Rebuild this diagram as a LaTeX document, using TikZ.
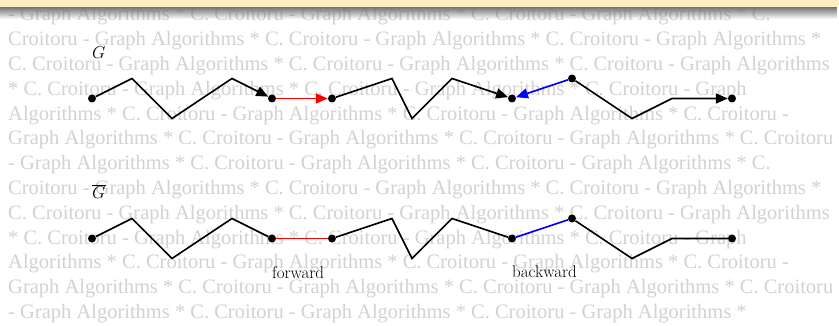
\documentclass[tikz,border=0pt]{standalone}
\usepackage{fontspec}
\newfontfamily\wmfont{Liberation Serif}
\usetikzlibrary{arrows.meta,fadings}
\definecolor{hdr}{RGB}{253,237,193}
\definecolor{wm}{RGB}{210,210,210}
\tikzfading[name=shadowfade, top color=transparent!0, bottom color=transparent!100]
\tikzset{
  dot/.style={circle,fill=black,inner sep=0pt,minimum size=8pt},
  edge/.style={line width=1.6pt,line join=miter},
  tip/.style={-{Triangle[length=12pt,width=10pt]}},
  wmline/.style={anchor=base west,inner sep=0pt,text=wm,font=\wmfont\fontsize{20.5}{24}\selectfont},
  lbl/.style={anchor=base west,inner sep=0pt,font=\fontsize{17}{20}\selectfont}
}
\begin{document}
\begin{tikzpicture}[x=1pt,y=-1pt]
\useasboundingbox (0,0) rectangle (839,326);
\fill[white] (0,0) rectangle (839,326);
% watermark
\foreach \t [count=\k] in {
 {- Graph Algorithms * C. Croitoru - Graph Algorithms * C. Croitoru - Graph Algorithms * C.},
 {Croitoru - Graph Algorithms * C. Croitoru - Graph Algorithms * C. Croitoru - Graph Algorithms *},
 {C. Croitoru - Graph Algorithms * C. Croitoru - Graph Algorithms * C. Croitoru - Graph Algorithms},
 {* C. Croitoru - Graph Algorithms * C. Croitoru - Graph Algorithms * C. Croitoru - Graph},
 {Algorithms * C. Croitoru - Graph Algorithms * C. Croitoru - Graph Algorithms * C. Croitoru -},
 {Graph Algorithms * C. Croitoru - Graph Algorithms * C. Croitoru - Graph Algorithms * C. Croitoru},
 {- Graph Algorithms * C. Croitoru - Graph Algorithms * C. Croitoru - Graph Algorithms * C.},
 {Croitoru - Graph Algorithms * C. Croitoru - Graph Algorithms * C. Croitoru - Graph Algorithms *},
 {C. Croitoru - Graph Algorithms * C. Croitoru - Graph Algorithms * C. Croitoru - Graph Algorithms},
 {* C. Croitoru - Graph Algorithms * C. Croitoru - Graph Algorithms * C. Croitoru - Graph},
 {Algorithms * C. Croitoru - Graph Algorithms * C. Croitoru - Graph Algorithms * C. Croitoru -},
 {Graph Algorithms * C. Croitoru - Graph Algorithms * C. Croitoru - Graph Algorithms * C. Croitoru},
 {- Graph Algorithms * C. Croitoru - Graph Algorithms * C. Croitoru - Graph Algorithms *}}
{ \node[wmline] (wm\k) at (8,{21+(\k-1)*24.8}) {\t}; }
% header bar and shadow
\fill[black!55,path fading=shadowfade] (0,7) rectangle (839,19);
\fill[hdr] (0,0) rectangle (839,7.3);
% labels
\node[lbl] (gl) at (92,59) {$G$};
\node[lbl] (gbl) at (92,198.5) {$\overline{G}$};
\node[lbl] (fw) at (272,278) {forward};
\node[lbl] (bw) at (512,277.5) {backward};
% top graph
\node[dot] (u1) at (92,98.5) {};
\node[dot] (u2) at (272,98.5) {};
\node[dot] (u3) at (332,98.5) {};
\node[dot] (u4) at (512,98.5) {};
\node[dot] (u5) at (572,78.5) {};
\node[dot] (u6) at (732,98.5) {};
\coordinate (p1) at (132,78.5);
\coordinate (p2) at (172,118.5);
\coordinate (p3) at (232,78.5);
\coordinate (p4) at (392,78.5);
\coordinate (p5) at (412,118.5);
\coordinate (p6) at (452,78.5);
\coordinate (p7) at (632,118.5);
\coordinate (p8) at (672,98.5);
\draw[edge,tip] (u1) -- (p1) -- (p2) -- (p3) -- (u2);
\draw[edge,tip,red] (u2) -- (u3);
\draw[edge,tip] (u3) -- (p4) -- (p5) -- (p6) -- (u4);
\draw[edge,tip,blue] (u5) -- (u4);
\draw[edge,tip] (u5) -- (p7) -- (p8) -- (u6);
% bottom graph
\node[dot] (l1) at (92,238.5) {};
\node[dot] (l2) at (272,238.5) {};
\node[dot] (l3) at (332,238.5) {};
\node[dot] (l4) at (512,238.5) {};
\node[dot] (l5) at (572,218.5) {};
\node[dot] (l6) at (732,238.5) {};
\coordinate (q1) at (132,218.5);
\coordinate (q2) at (172,258.5);
\coordinate (q3) at (232,218.5);
\coordinate (q4) at (392,218.5);
\coordinate (q5) at (412,258.5);
\coordinate (q6) at (452,218.5);
\coordinate (q7) at (632,258.5);
\coordinate (q8) at (672,238.5);
\draw[edge] (l1) -- (q1) -- (q2) -- (q3) -- (l2);
\draw[edge,red] (l2) -- (l3);
\draw[edge] (l3) -- (q4) -- (q5) -- (q6) -- (l4);
\draw[edge,blue] (l4) -- (l5);
\draw[edge] (l5) -- (q7) -- (q8) -- (l6);
\end{tikzpicture}
\end{document}
